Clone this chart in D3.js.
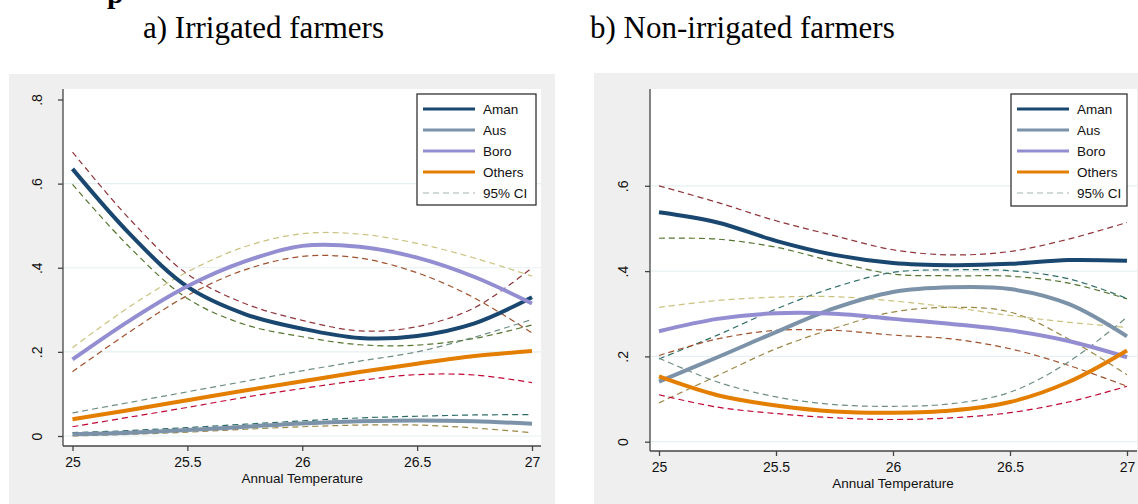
<!DOCTYPE html>
<html>
<head>
<meta charset="utf-8">
<script src="https://cdn.jsdelivr.net/npm/d3@7"></script>
<style>
  html, body { margin: 0; padding: 0; background: #ffffff; }
  svg { display: block; }
</style>
</head>
<body>
<svg id="chart" width="1138" height="504"></svg>
<script>
// Predicted crop-choice probabilities against annual temperature
const temps = [25, 25.25, 25.5, 25.75, 26, 26.25, 26.5, 26.75, 27];
const xTicks = [25, 25.5, 26, 26.5, 27];
const crops = ["Aman", "Aus", "Boro", "Others"];
const ciLabel = "95% CI";

// a) Irrigated farmers
const irrYTicks = [0, 0.2, 0.4, 0.6, 0.8];
const irrAman     = [0.635, 0.480, 0.355, 0.290, 0.255, 0.233, 0.238, 0.268, 0.330];
const irrAmanHi   = [0.675, 0.515, 0.385, 0.315, 0.275, 0.250, 0.260, 0.305, 0.400];
const irrAmanLo   = [0.598, 0.448, 0.327, 0.265, 0.236, 0.217, 0.216, 0.232, 0.264];
const irrAus      = [0.004, 0.008, 0.014, 0.022, 0.030, 0.035, 0.037, 0.035, 0.029];
const irrAusHi    = [0.008, 0.013, 0.020, 0.028, 0.036, 0.043, 0.047, 0.050, 0.051];
const irrAusLo    = [0.000, 0.004, 0.009, 0.016, 0.022, 0.026, 0.026, 0.019, 0.008];
const irrBoro     = [0.182, 0.275, 0.356, 0.415, 0.452, 0.450, 0.424, 0.378, 0.315];
const irrBoroHi   = [0.210, 0.308, 0.390, 0.450, 0.481, 0.480, 0.458, 0.423, 0.380];
const irrBoroLo   = [0.153, 0.248, 0.334, 0.395, 0.427, 0.423, 0.388, 0.328, 0.245];
const irrOthers   = [0.040, 0.062, 0.085, 0.108, 0.130, 0.152, 0.172, 0.190, 0.202];
const irrOthersHi = [0.055, 0.080, 0.105, 0.130, 0.155, 0.178, 0.200, 0.235, 0.277];
const irrOthersLo = [0.022, 0.045, 0.068, 0.092, 0.113, 0.132, 0.146, 0.145, 0.127];

// b) Non-irrigated farmers
const nonYTicks = [0, 0.2, 0.4, 0.6];
const nonAman     = [0.538, 0.514, 0.471, 0.438, 0.419, 0.414, 0.417, 0.426, 0.424];
const nonAmanHi   = [0.600, 0.561, 0.518, 0.483, 0.450, 0.438, 0.446, 0.475, 0.514];
const nonAmanLo   = [0.477, 0.475, 0.456, 0.422, 0.393, 0.389, 0.388, 0.372, 0.335];
const nonAus      = [0.141, 0.198, 0.257, 0.313, 0.351, 0.362, 0.358, 0.323, 0.247];
const nonAusHi    = [0.194, 0.250, 0.311, 0.362, 0.397, 0.403, 0.401, 0.382, 0.336];
const nonAusLo    = [0.091, 0.155, 0.218, 0.266, 0.304, 0.315, 0.304, 0.241, 0.157];
const nonBoro     = [0.259, 0.288, 0.301, 0.300, 0.288, 0.276, 0.261, 0.236, 0.198];
const nonBoroHi   = [0.315, 0.331, 0.339, 0.340, 0.330, 0.315, 0.296, 0.280, 0.268];
const nonBoroLo   = [0.202, 0.241, 0.261, 0.261, 0.250, 0.241, 0.218, 0.179, 0.130];
const nonOthers   = [0.153, 0.109, 0.085, 0.071, 0.068, 0.073, 0.093, 0.140, 0.214];
const nonOthersHi = [0.196, 0.140, 0.105, 0.087, 0.083, 0.089, 0.116, 0.187, 0.292];
const nonOthersLo = [0.110, 0.081, 0.066, 0.056, 0.052, 0.056, 0.068, 0.093, 0.130];

// Stata-like palette
const lineColor = { Aman: "#1a476f", Aus: "#7b92a8", Boro: "#938dd2", Others: "#e37e00" };
const hiColor   = { Aman: "#90353b", Aus: "#2d6d66", Boro: "#cac27e", Others: "#6e8e84" };
const loColor   = { Aman: "#55752f", Aus: "#9c8847", Boro: "#a0522d", Others: "#c10534" };

const svg = d3.select("#chart");
const sans = "'Liberation Sans', Arial, sans-serif";
const serif = "'Liberation Serif', 'DejaVu Serif', serif";

// heading letter running off the top edge
svg.append("text").attr("x", 107).attr("y", 3)
  .attr("font-family", serif).attr("font-weight", "bold").attr("font-size", 30)
  .attr("fill", "#000").text("p");

function drawPanel(cfg) {
  const g = svg.append("g");
  // panel background
  g.append("rect").attr("x", cfg.bg[0]).attr("y", cfg.bg[1])
    .attr("width", cfg.bg[2]).attr("height", cfg.bg[3]).attr("fill", "#efefef");
  // plot region
  g.append("rect").attr("x", cfg.plot[0]).attr("y", cfg.plot[1])
    .attr("width", cfg.plot[2] - cfg.plot[0]).attr("height", cfg.plot[3] - cfg.plot[1])
    .attr("fill", "#ffffff");

  const x = d3.scaleLinear().domain([25, 27]).range(cfg.xRange);
  const y = d3.scaleLinear().domain([0, cfg.yTicks[cfg.yTicks.length - 1]]).range(cfg.yRange);

  // grid lines
  g.append("g").selectAll("line").data(cfg.yTicks.filter(v => v < 0.75))
    .join("line")
    .attr("x1", cfg.plot[0] + 1).attr("x2", cfg.plot[2])
    .attr("y1", d => y(d)).attr("y2", d => y(d))
    .attr("stroke", "#e6eff1").attr("stroke-width", 1.2);

  // title
  svg.append("text").attr("x", cfg.titleX).attr("y", 38)
    .attr("font-family", serif).attr("font-size", 31).attr("fill", "#000")
    .text(cfg.title);

  const line = d3.line().x((d, i) => x(temps[i])).y(d => y(d)).curve(d3.curveCatmullRom.alpha(0.5));

  const clipId = "clip" + cfg.key;
  g.append("clipPath").attr("id", clipId).append("rect")
    .attr("x", cfg.plot[0]).attr("y", cfg.plot[1])
    .attr("width", cfg.plot[2] - cfg.plot[0]).attr("height", cfg.plot[3] - cfg.plot[1]);
  const marks = g.append("g").attr("clip-path", `url(#${clipId})`);

  // confidence bands (dashed)
  cfg.series.forEach(s => {
    marks.append("path").attr("d", line(s.hi)).attr("fill", "none")
      .attr("stroke", hiColor[s.name]).attr("stroke-width", 1.2).attr("stroke-dasharray", "6,4");
    marks.append("path").attr("d", line(s.lo)).attr("fill", "none")
      .attr("stroke", loColor[s.name]).attr("stroke-width", 1.2).attr("stroke-dasharray", "6,4");
  });
  // fitted lines
  cfg.series.forEach(s => {
    marks.append("path").attr("d", line(s.mid)).attr("fill", "none")
      .attr("stroke", lineColor[s.name]).attr("stroke-width", 4).attr("stroke-linecap", "butt");
  });

  // axes
  const xAxis = d3.axisBottom(x).tickValues(xTicks).tickSize(5).tickSizeOuter(0)
    .tickFormat(d3.format("~g"));
  const xg = g.append("g").attr("transform", `translate(0,${cfg.plot[3]})`).call(xAxis);
  xg.select(".domain").attr("d", `M${cfg.plot[0]},0H${cfg.plot[2]}`);
  const yFmt = v => v === 0 ? "0" : d3.format(".1f")(v).replace(/^0/, "");
  const yAxis = d3.axisLeft(y).tickValues(cfg.yTicks).tickSize(5).tickSizeOuter(0).tickFormat(yFmt);
  const yg = g.append("g").attr("transform", `translate(${cfg.plot[0]},0)`).call(yAxis);
  yg.select(".domain").attr("d", `M0,${cfg.plot[1]}V${cfg.plot[3]}`);

  [xg, yg].forEach(a => {
    a.select(".domain").attr("stroke", "#444").attr("stroke-width", 1.3);
    a.selectAll(".tick line").attr("stroke", "#444").attr("stroke-width", 1.3);
    a.selectAll("text").attr("font-family", sans).attr("font-size", 14).attr("fill", "#111");
  });
  xg.selectAll("text").attr("y", 11).attr("dy", "0.71em");
  yg.selectAll(".tick text")
    .attr("x", 0).attr("dy", 0).attr("text-anchor", "middle")
    .attr("transform", `translate(${cfg.yLabelX},0) rotate(-90)`)
    .attr("y", 0).attr("dominant-baseline", "central");

  g.append("text").attr("x", (cfg.xRange[0] + cfg.xRange[1]) / 2).attr("y", cfg.plot[3] + 37)
    .attr("text-anchor", "middle").attr("font-family", sans).attr("font-size", 13.5)
    .attr("fill", "#111").text("Annual Temperature");

  // legend
  const lg = g.append("g").attr("transform", `translate(${cfg.legend[0]},${cfg.legend[1]})`);
  lg.append("rect").attr("x", 0).attr("y", 0).attr("width", cfg.legend[2]).attr("height", cfg.legend[3])
    .attr("fill", "#fff").attr("stroke", "#222").attr("stroke-width", 1.2);
  const items = crops.map(c => ({ label: c, color: lineColor[c], dash: null, w: 3 }))
    .concat([{ label: ciLabel, color: "#a3b6b0", dash: "6,4", w: 1.2 }]);
  items.forEach((it, i) => {
    const cy = 15 + i * 21;
    lg.append("line").attr("x1", 6).attr("x2", 58).attr("y1", cy).attr("y2", cy)
      .attr("stroke", it.color).attr("stroke-width", it.w)
      .attr("stroke-dasharray", it.dash);
    lg.append("text").attr("x", 66).attr("y", cy).attr("dy", "0.35em")
      .attr("font-family", sans).attr("font-size", 13.5).attr("fill", "#111").text(it.label);
  });
}

function seriesOf(m) {
  return crops.map(c => ({ name: c, mid: m[c][0], hi: m[c][1], lo: m[c][2] }));
}

drawPanel({
  key: "irr",
  title: "a) Irrigated farmers",
  titleX: 143,
  bg: [9, 74, 546, 430],
  plot: [63, 89, 541, 446],
  xRange: [72.5, 532],
  yRange: [436, 99.5],
  yTicks: irrYTicks,
  yLabelX: -26,
  legend: [417, 94, 119, 111],
  series: seriesOf({
    Aman: [irrAman, irrAmanHi, irrAmanLo],
    Aus: [irrAus, irrAusHi, irrAusLo],
    Boro: [irrBoro, irrBoroHi, irrBoroLo],
    Others: [irrOthers, irrOthersHi, irrOthersLo]
  })
});

drawPanel({
  key: "non",
  title: "b) Non-irrigated farmers",
  titleX: 590,
  bg: [594, 73, 544, 431],
  plot: [650, 89, 1137, 451],
  xRange: [659, 1127],
  yRange: [441.7, 185.8],
  yTicks: nonYTicks,
  yLabelX: -27,
  legend: [1011, 94, 116, 112],
  series: seriesOf({
    Aman: [nonAman, nonAmanHi, nonAmanLo],
    Aus: [nonAus, nonAusHi, nonAusLo],
    Boro: [nonBoro, nonBoroHi, nonBoroLo],
    Others: [nonOthers, nonOthersHi, nonOthersLo]
  })
});
</script>
</body>
</html>
